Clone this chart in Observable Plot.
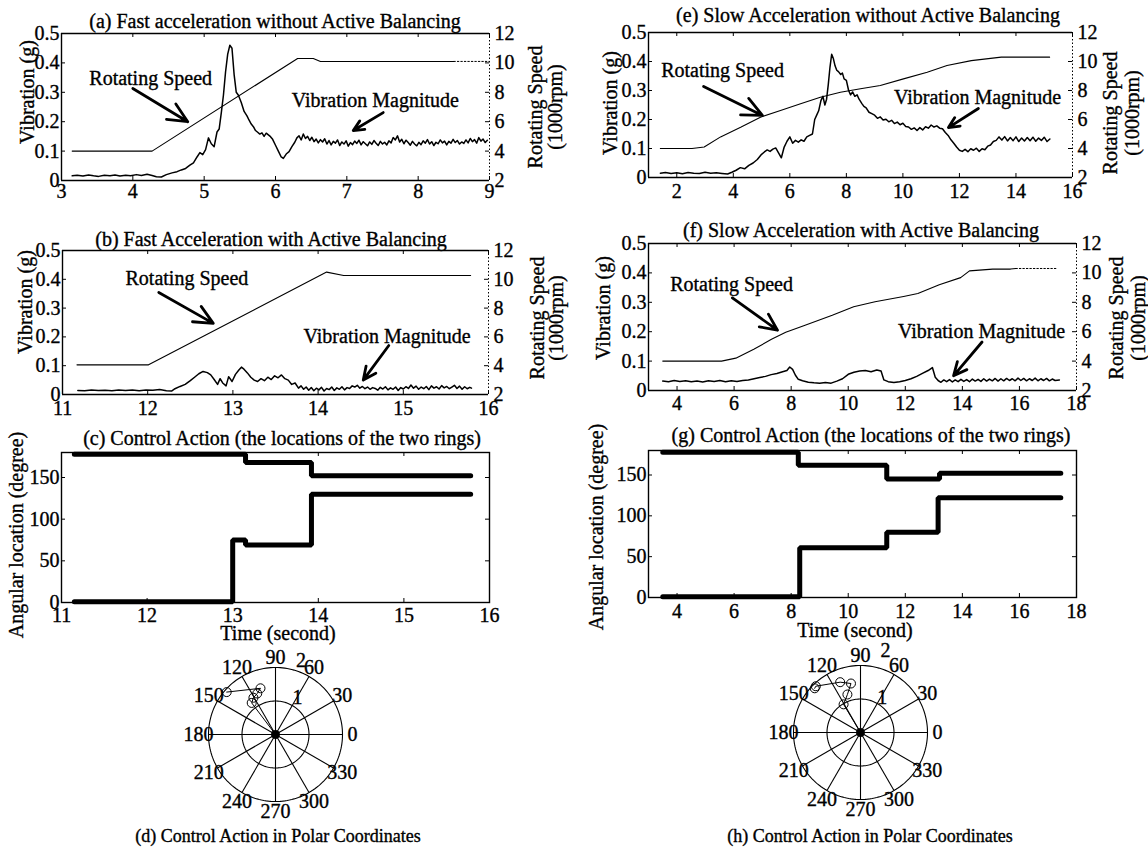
<!DOCTYPE html>
<html><head><meta charset="utf-8">
<script src="https://cdn.jsdelivr.net/npm/d3@7"></script>
<script src="https://cdn.jsdelivr.net/npm/@observablehq/plot@0.6"></script>
<style>
body{margin:0;background:#fff;}
#fig{position:relative;width:1148px;height:848px;overflow:hidden;font-family:"Liberation Serif","Times New Roman",serif;color:#000;background:#fff;}
.abs{position:absolute;}
.abs svg{max-width:none;overflow:visible;}
#fig svg text{stroke:#000;stroke-width:0.35px;}
.t{position:absolute;white-space:nowrap;font-size:20px;line-height:1;transform:translate(-50%,-50%);-webkit-text-stroke:0.35px #000;}
.r{transform:translate(-50%,-50%) rotate(-90deg);}
</style></head><body><div id="fig"></div><script>
// ---------------- DATA ----------------
const vibTicks = [0, 0.1, 0.2, 0.3, 0.4, 0.5];
const speedTicks = [2, 4, 6, 8, 10, 12];
const angTicks = [0, 50, 100, 150];
const xTicksA = [3, 4, 5, 6, 7, 8, 9];
const xTicksB = [11, 12, 13, 14, 15, 16];
const xTicksE = [2, 4, 6, 8, 10, 12, 14, 16];
const xTicksF = [4, 6, 8, 10, 12, 14, 16, 18];

// (a) fast acceleration without balancing: [time s, vibration g]
const vibA = [[3.15,.016],[3.22,.018],[3.30,.015],[3.38,.019],[3.45,.016],[3.52,.014],[3.60,.018],[3.68,.016],[3.75,.019],[3.82,.015],[3.90,.018],[3.97,.016],[4.05,.020],[4.12,.017],[4.20,.021],[4.27,.017],[4.33,.013],[4.40,.012],[4.47,.020],[4.55,.026],[4.62,.030],[4.68,.036],[4.74,.041],[4.80,.052],[4.85,.060],[4.90,.080],[4.94,.095],[4.98,.088],[5.02,.105],[5.06,.145],[5.10,.125],[5.14,.115],[5.18,.165],[5.21,.175],[5.24,.230],[5.27,.290],[5.30,.370],[5.33,.430],[5.36,.460],[5.39,.450],[5.42,.360],[5.45,.300],[5.48,.290],[5.52,.265],[5.56,.235],[5.60,.220],[5.63,.205],[5.66,.192],[5.69,.183],[5.72,.170],[5.75,.164],[5.78,.158],[5.81,.162],[5.84,.150],[5.87,.161],[5.90,.155],[5.93,.149],[5.96,.140],[6.00,.120],[6.04,.100],[6.08,.080],[6.11,.075],[6.15,.090],[6.19,.098],[6.23,.115],[6.27,.130],[6.30,.145],[6.33,.152],[6.36,.138],[6.39,.158],[6.42,.143],[6.45,.150],[6.48,.136],[6.51,.147],[6.54,.132],[6.57,.141],[6.60,.128],[6.63,.139],[6.66,.131],[6.69,.142],[6.72,.124],[6.75,.136],[6.78,.121],[6.81,.133],[6.84,.127],[6.87,.138],[6.90,.119],[6.93,.131],[6.96,.124],[6.99,.135],[7.02,.117],[7.05,.129],[7.08,.122],[7.11,.134],[7.14,.126],[7.17,.137],[7.20,.121],[7.23,.132],[7.26,.125],[7.29,.118],[7.32,.131],[7.35,.123],[7.38,.136],[7.41,.127],[7.44,.119],[7.47,.133],[7.50,.124],[7.53,.130],[7.56,.121],[7.59,.135],[7.62,.128],[7.65,.146],[7.68,.138],[7.71,.152],[7.74,.131],[7.77,.140],[7.80,.125],[7.83,.137],[7.86,.129],[7.89,.120],[7.92,.133],[7.95,.124],[7.98,.118],[8.01,.130],[8.04,.122],[8.07,.135],[8.10,.127],[8.13,.139],[8.16,.124],[8.19,.132],[8.22,.119],[8.25,.130],[8.28,.125],[8.31,.138],[8.34,.128],[8.37,.134],[8.40,.121],[8.43,.133],[8.46,.127],[8.49,.140],[8.52,.129],[8.55,.136],[8.58,.124],[8.61,.131],[8.64,.126],[8.67,.138],[8.70,.128],[8.73,.143],[8.76,.132],[8.79,.139],[8.82,.127],[8.85,.146],[8.88,.134],[8.91,.141],[8.94,.129],[8.97,.137]];
// rotating speed [time s, 1000 rpm]
const speedA = [[3.15,4.0],[4.27,4.0],[6.31,10.3],[6.53,10.3],[6.63,10.1],[8.5,10.1]];
const speedAdot = [[8.5,10.1],[9.0,10.1]];

// (b) fast acceleration with balancing
const vibB = [[11.18,.014],[11.26,.013],[11.34,.016],[11.42,.014],[11.50,.015],[11.58,.013],[11.66,.016],[11.74,.014],[11.82,.016],[11.90,.013],[11.98,.016],[12.06,.015],[12.14,.017],[12.22,.013],[12.28,.012],[12.32,.020],[12.38,.028],[12.44,.035],[12.50,.048],[12.55,.060],[12.60,.072],[12.65,.080],[12.70,.076],[12.74,.068],[12.78,.052],[12.82,.035],[12.85,.055],[12.88,.040],[12.92,.030],[12.95,.062],[12.99,.045],[13.03,.070],[13.07,.085],[13.10,.095],[13.13,.088],[13.17,.075],[13.21,.060],[13.25,.050],[13.29,.045],[13.33,.055],[13.37,.048],[13.41,.060],[13.45,.052],[13.49,.065],[13.53,.058],[13.57,.068],[13.61,.055],[13.65,.050],[13.69,.035],[13.73,.040],[13.77,.022],[13.80,.030],[13.83,.018],[13.86,.026],[13.89,.015],[13.92,.024],[13.95,.013],[13.98,.022],[14.01,.016],[14.04,.025],[14.07,.012],[14.10,.021],[14.13,.017],[14.16,.026],[14.19,.014],[14.22,.023],[14.25,.018],[14.28,.027],[14.31,.016],[14.34,.024],[14.37,.021],[14.40,.030],[14.43,.026],[14.46,.032],[14.49,.022],[14.52,.028],[14.55,.020],[14.58,.026],[14.61,.018],[14.64,.024],[14.67,.021],[14.70,.015],[14.73,.025],[14.76,.019],[14.79,.027],[14.82,.016],[14.85,.023],[14.88,.018],[14.91,.026],[14.94,.014],[14.97,.024],[15.00,.019],[15.03,.027],[15.06,.021],[15.09,.033],[15.12,.022],[15.15,.029],[15.18,.018],[15.21,.026],[15.24,.020],[15.27,.028],[15.30,.017],[15.33,.030],[15.36,.022],[15.39,.027],[15.42,.019],[15.45,.031],[15.48,.023],[15.51,.028],[15.54,.020],[15.57,.026],[15.60,.032],[15.63,.021],[15.66,.029],[15.69,.018],[15.72,.027],[15.75,.020],[15.78,.025],[15.80,.022]];
const speedB = [[11.17,4.06],[12.01,4.06],[14.1,10.5],[14.3,10.26],[15.79,10.26]];

// (e) slow acceleration without balancing
const vibE = [[1.42,.015],[1.6,.017],[1.8,.014],[2.0,.016],[2.2,.013],[2.4,.017],[2.6,.015],[2.8,.014],[3.0,.018],[3.2,.015],[3.4,.016],[3.6,.014],[3.8,.012],[3.95,.018],[4.1,.025],[4.25,.034],[4.4,.030],[4.55,.042],[4.7,.050],[4.85,.062],[5.0,.080],[5.1,.088],[5.2,.095],[5.3,.090],[5.4,.098],[5.5,.102],[5.6,.085],[5.7,.068],[5.8,.105],[5.9,.125],[6.0,.140],[6.1,.118],[6.2,.128],[6.3,.122],[6.4,.130],[6.5,.125],[6.6,.140],[6.7,.145],[6.8,.150],[6.88,.200],[6.95,.215],[7.02,.230],[7.1,.265],[7.17,.280],[7.24,.250],[7.3,.270],[7.36,.320],[7.42,.380],[7.48,.425],[7.54,.410],[7.6,.385],[7.66,.370],[7.72,.365],[7.8,.355],[7.86,.360],[7.92,.340],[8.0,.335],[8.08,.300],[8.15,.285],[8.22,.295],[8.3,.280],[8.38,.285],[8.45,.270],[8.55,.255],[8.62,.245],[8.7,.240],[8.8,.225],[8.9,.220],[9.0,.215],[9.1,.204],[9.2,.209],[9.3,.198],[9.4,.201],[9.5,.192],[9.6,.197],[9.7,.186],[9.8,.191],[9.9,.182],[10.0,.187],[10.1,.176],[10.2,.174],[10.3,.166],[10.4,.171],[10.5,.162],[10.6,.172],[10.7,.164],[10.8,.175],[10.9,.170],[11.0,.181],[11.1,.174],[11.2,.178],[11.3,.170],[11.4,.168],[11.5,.155],[11.6,.145],[11.7,.130],[11.8,.118],[11.9,.105],[12.0,.094],[12.1,.090],[12.2,.097],[12.3,.089],[12.4,.099],[12.5,.094],[12.6,.101],[12.7,.090],[12.8,.099],[12.9,.096],[13.0,.108],[13.1,.112],[13.2,.124],[13.3,.128],[13.4,.140],[13.5,.129],[13.6,.141],[13.7,.126],[13.8,.138],[13.9,.127],[14.0,.140],[14.1,.124],[14.2,.136],[14.3,.126],[14.4,.138],[14.5,.127],[14.6,.139],[14.7,.125],[14.8,.136],[14.9,.128],[15.0,.139],[15.1,.124],[15.2,.133]];
const speedE = [[1.42,4],[2.54,4],[2.97,4.1],[3.55,4.8],[4.26,5.46],[4.96,6.16],[5.67,6.62],[6.38,7.08],[7.08,7.54],[7.79,7.88],[8.5,8.12],[9.2,8.34],[10.02,8.8],[10.86,9.26],[11.56,9.72],[12.42,10.06],[13.48,10.3],[15.19,10.3]];

// (f) slow acceleration with balancing
const vibF = [[3.5,.032],[3.7,.030],[3.9,.034],[4.1,.031],[4.3,.033],[4.5,.030],[4.7,.032],[4.9,.029],[5.1,.033],[5.3,.031],[5.5,.034],[5.7,.030],[5.9,.033],[6.1,.031],[6.3,.034],[6.5,.036],[6.7,.040],[6.9,.044],[7.1,.048],[7.3,.054],[7.5,.058],[7.7,.064],[7.85,.068],[7.95,.080],[8.05,.072],[8.15,.052],[8.25,.038],[8.4,.033],[8.6,.028],[8.8,.026],[9.0,.025],[9.2,.027],[9.4,.025],[9.6,.032],[9.8,.040],[10.0,.055],[10.2,.062],[10.4,.066],[10.6,.068],[10.8,.064],[11.0,.070],[11.15,.066],[11.25,.036],[11.4,.030],[11.6,.027],[11.8,.030],[12.0,.034],[12.2,.040],[12.4,.048],[12.6,.058],[12.8,.068],[12.95,.078],[13.05,.045],[13.15,.034],[13.25,.028],[13.35,.036],[13.45,.030],[13.55,.037],[13.65,.029],[13.75,.036],[13.85,.030],[13.95,.038],[14.05,.031],[14.15,.037],[14.25,.030],[14.35,.039],[14.45,.032],[14.55,.038],[14.65,.031],[14.75,.040],[14.85,.032],[14.95,.039],[15.05,.033],[15.15,.041],[15.25,.032],[15.35,.040],[15.45,.033],[15.55,.041],[15.65,.034],[15.75,.040],[15.85,.033],[15.95,.042],[16.05,.034],[16.15,.041],[16.25,.033],[16.35,.040],[16.45,.034],[16.55,.042],[16.65,.033],[16.75,.040],[16.85,.034],[16.95,.041],[17.05,.033],[17.15,.039],[17.25,.034],[17.4,.036]];
const speedF = [[3.5,4],[5.56,4],[6.06,4.2],[6.69,4.8],[7.31,5.48],[7.81,5.96],[8.44,6.4],[9.44,7.12],[10.19,7.7],[10.94,8.04],[11.94,8.4],[12.44,8.6],[13.19,9.2],[13.94,9.68],[14.25,10.14],[15.06,10.26],[15.69,10.26],[15.875,10.3]];
const speedFdot = [[15.875,10.3],[17.31,10.3]];

// (c) ring locations, fast: [time, degree]
const ring1C = [[11.15,178],[13.15,168],[13.92,152],[15.78,152]];
const ring2C = [[11.15,1],[13.0,75],[13.15,69],[13.92,130],[15.78,130]];
// (g) ring locations, slow
const ring1G = [[3.5,178],[8.25,162],[11.35,145],[13.2,152],[17.45,152]];
const ring2G = [[3.5,1],[8.3,61],[11.35,80],[13.15,122],[17.45,122]];

// polar control action [angle deg, magnitude]
const polarD = [[0,0],[127,1.18],[121,1.28],[114,1.34],[108,1.45],[139,1.93]];
const polarH = [[0,0],[121,0.98],[109,1.2],[101,1.49],[112,1.62],[134,1.92],[136,1.9]];
const polarAngles = [0,30,60,90,120,150,180,210,240,270,300,330];
const polarRings = [1, 2];

// annotations (data units)
const notesA = [{x:4.25,y:0.347,text:"Rotating Speed"},{x:7.4,y:0.272,text:"Vibration Magnitude"}];
const arrowsA = [{x1:4.0,y1:0.313,x2:4.77,y2:0.2},{x1:7.51,y1:0.231,x2:7.09,y2:0.17}];
const notesB = [{x:12.46,y:0.403,text:"Rotating Speed"},{x:14.81,y:0.2,text:"Vibration Magnitude"}];
const arrowsB = [{x1:12.13,y1:0.354,x2:12.77,y2:0.247},{x1:14.83,y1:0.17,x2:14.53,y2:0.05}];
const notesE = [{x:3.62,y:0.369,text:"Rotating Speed"},{x:12.64,y:0.276,text:"Vibration Magnitude"}];
const arrowsE = [{x1:2.95,y1:0.314,x2:5.03,y2:0.214},{x1:12.67,y1:0.238,x2:11.61,y2:0.172}];
const notesF = [{x:5.91,y:0.36,text:"Rotating Speed"},{x:14.67,y:0.2,text:"Vibration Magnitude"}];
const arrowsF = [{x1:5.94,y1:0.315,x2:7.52,y2:0.205},{x1:14.69,y1:0.165,x2:13.69,y2:0.05}];

// ---------------- DRAWING ----------------
const FONT = "Liberation Serif";
const fig = document.getElementById("fig");
function place(node, left, top, w, h) {
  const d = document.createElement("div");
  d.className = "abs";
  Object.assign(d.style, {left: left + "px", top: top + "px", width: w + "px", height: h + "px"});
  d.appendChild(node); fig.appendChild(d);
}
function label(text, x, y, rot = false, size = 20) {
  const s = document.createElement("div");
  s.className = "t" + (rot ? " r" : "");
  Object.assign(s.style, {left: x + "px", top: y + "px", fontSize: size + "px"});
  s.textContent = text; fig.appendChild(s);
}
const baseStyle = {fontFamily: FONT, fontSize: "20px", background: "transparent", overflow: "visible", maxWidth: "none"};
const fmtV = d => d === 0 ? "0" : String(d);
const toV = s => (s - 2) / 20;

function dualPanel(p) {
  const mL = 70, mR = 50, mT = 14, mB = 40;
  const fw = p.fx1 - p.fx0, fh = p.fy1 - p.fy0;
  const W = fw + mL + mR, H = fh + mT + mB;
  const spPos = speedTicks.map(toV);
  const chart = Plot.plot({
    width: W, height: H, marginLeft: mL, marginRight: mR, marginTop: mT, marginBottom: mB,
    style: baseStyle,
    x: {domain: p.xDomain}, y: {domain: [0, 0.5]},
    marks: [
      Plot.ruleY([0, 0.5], {stroke: "#000", strokeWidth: 1.4}),
      Plot.ruleX([p.xDomain[0]], {stroke: "#000", strokeWidth: 1.4}),
      Plot.ruleX([p.xDomain[1]], {stroke: "#000", strokeWidth: 1, strokeDasharray: "1.5,2"}),
      Plot.tickX(p.xTicks, {x: d => d, insetTop: fh - 4, stroke: "#000"}),
      Plot.tickX(p.xTicks, {x: d => d, insetBottom: fh - 4, stroke: "#000"}),
      Plot.tickY(vibTicks, {y: d => d, insetRight: fw - 4, stroke: "#000"}),
      Plot.tickY(spPos, {y: d => d, insetLeft: fw - 4, stroke: "#000"}),
      Plot.axisX({ticks: p.xTicks, tickSize: 0, tickPadding: p.xPad, fontSize: 20, label: null, tickFormat: d => String(d)}),
      Plot.axisY({ticks: vibTicks, tickSize: 0, tickPadding: 2, fontSize: 20, label: null, tickFormat: fmtV}),
      Plot.axisY({anchor: "right", ticks: spPos, tickSize: 0, tickPadding: 5, fontSize: 20, label: null, tickFormat: (d, i) => String(speedTicks[i])}),
      Plot.line(p.speed, {x: d => d[0], y: d => toV(d[1]), stroke: "#000", strokeWidth: 1.1}),
      p.speedDot ? Plot.line(p.speedDot, {x: d => d[0], y: d => toV(d[1]), stroke: "#000", strokeWidth: 1, strokeDasharray: "1.5,2"}) : [],
      Plot.line(p.vib, {x: d => d[0], y: d => d[1], stroke: "#000", strokeWidth: 1.5}),
      Plot.text(p.notes, {x: "x", y: "y", text: "text", fontSize: 20, fill: "#000"}),
      Plot.arrow(p.arrows, {x1: "x1", y1: "y1", x2: "x2", y2: "y2", stroke: "#000", strokeWidth: 2.8, headLength: 12, headAngle: 50})
    ]
  });
  place(chart, p.fx0 - mL, p.fy0 - mT, W, H);
}

function ringPanel(p) {
  const mL = 70, mR = 50, mT = 14, mB = 40;
  const fw = p.fx1 - p.fx0, fh = p.fy1 - p.fy0;
  const W = fw + mL + mR, H = fh + mT + mB;
  const chart = Plot.plot({
    width: W, height: H, marginLeft: mL, marginRight: mR, marginTop: mT, marginBottom: mB,
    style: baseStyle,
    x: {domain: p.xDomain}, y: {domain: [0, 180]},
    marks: [
      Plot.frame({stroke: "#000", strokeWidth: 1.4}),
      Plot.tickX(p.xTicks, {x: d => d, insetTop: fh - 4, stroke: "#000"}),
      Plot.tickX(p.xTicks, {x: d => d, insetBottom: fh - 4, stroke: "#000"}),
      Plot.tickY(angTicks, {y: d => d, insetRight: fw - 4, stroke: "#000"}),
      Plot.tickY(angTicks, {y: d => d, insetLeft: fw - 4, stroke: "#000"}),
      Plot.axisX({ticks: p.xTicks, tickSize: 0, tickPadding: p.xPad, fontSize: 20, label: null, tickFormat: d => String(d)}),
      Plot.axisY({ticks: angTicks, tickSize: 0, tickPadding: 2, fontSize: 20, label: null, tickFormat: d => String(d)}),
      Plot.line(p.r1, {x: d => d[0], y: d => d[1], curve: "step-after", stroke: "#000", strokeWidth: 5, strokeLinejoin: "miter"}),
      Plot.line(p.r2, {x: d => d[0], y: d => d[1], curve: "step-after", stroke: "#000", strokeWidth: 5, strokeLinejoin: "miter"})
    ]
  });
  place(chart, p.fx0 - mL, p.fy0 - mT, W, H);
}

function polarPanel(cx, cy, pts, radLabels) {
  const U = 33.5, m = 60, S = 4 * U + 2 * m;
  const rad = a => a * Math.PI / 180;
  const pol = (a, r) => ({x: r * Math.cos(rad(a)), y: r * Math.sin(rad(a))});
  const sweep = d3.range(0, 361, 2);
  const rings = polarRings.flatMap(r => sweep.map(a => ({...pol(a, r), ring: r})));
  const spokes = polarAngles.map(a => ({x1: 0, y1: 0, x2: pol(a, 2).x, y2: pol(a, 2).y}));
  const angLab = polarAngles.map(a => ({...pol(a, 2.3), text: String(a)}));
  const path = pts.map(([a, r]) => pol(a, r));
  const chart = Plot.plot({
    width: S, height: S, margin: m, style: baseStyle,
    x: {domain: [-2, 2], axis: null}, y: {domain: [-2, 2], axis: null},
    marks: [
      Plot.line(rings, {x: "x", y: "y", z: "ring", stroke: "#000", strokeWidth: 1.1}),
      Plot.link(spokes, {x1: "x1", y1: "y1", x2: "x2", y2: "y2", stroke: "#000", strokeWidth: 1.1}),
      Plot.text(angLab, {x: "x", y: "y", text: "text", fontSize: 20, fill: "#000"}),
      Plot.text(radLabels.map(([a, r, t]) => ({...pol(a, r), text: t})), {x: "x", y: "y", text: "text", fontSize: 20, fill: "#000"}),
      Plot.line(path, {x: "x", y: "y", stroke: "#000", strokeWidth: 1}),
      Plot.dot(path.slice(1), {x: "x", y: "y", r: 4.5, stroke: "#000", strokeWidth: 1, fill: "none"}),
      Plot.dot(path.slice(0, 1), {x: "x", y: "y", r: 4.5, fill: "#000"})
    ]
  });
  place(chart, cx - S / 2, cy - S / 2, S, S);
}

// panels
dualPanel({fx0: 61, fx1: 489, fy0: 33, fy1: 180, xDomain: [3, 9], xTicks: xTicksA, xPad: 3,
  vib: vibA, speed: speedA, speedDot: speedAdot, notes: notesA, arrows: arrowsA});
dualPanel({fx0: 62, fx1: 488, fy0: 250, fy1: 394, xDomain: [11, 16], xTicks: xTicksB, xPad: 6,
  vib: vibB, speed: speedB, notes: notesB, arrows: arrowsB});
dualPanel({fx0: 648, fx1: 1072, fy0: 32, fy1: 177, xDomain: [1, 16], xTicks: xTicksE, xPad: 6,
  vib: vibE, speed: speedE, notes: notesE, arrows: arrowsE});
dualPanel({fx0: 648, fx1: 1076, fy0: 243, fy1: 390, xDomain: [3, 18], xTicks: xTicksF, xPad: 5,
  vib: vibF, speed: speedF, speedDot: speedFdot, notes: notesF, arrows: arrowsF});
ringPanel({fx0: 61, fx1: 489, fy0: 452, fy1: 602, xDomain: [11, 16], xTicks: xTicksB, xPad: 5, r1: ring1C, r2: ring2C});
ringPanel({fx0: 648, fx1: 1076, fy0: 450, fy1: 597, xDomain: [3, 18], xTicks: xTicksF, xPad: 6, r1: ring1G, r2: ring2G});
polarPanel(275, 734, polarD, [[59, 1.28, "1"], [71, 2.33, "2"]]);
polarPanel(860, 732, polarH, [[58, 1.23, "1"], [73, 2.56, "2"]]);

// titles and axis labels
label("(a) Fast acceleration without Active Balancing", 275, 21);
label("(b) Fast Acceleration with Active Balancing", 271, 239);
label("(c) Control Action (the locations of the two rings)", 282, 438);
label("(e) Slow Acceleration without Active Balancing", 868, 15);
label("(f) Slow Acceleration with Active Balancing", 861, 230);
label("(g) Control Action (the locations of the two rings)", 871, 435);
label("(d) Control Action in Polar Coordinates", 278, 836, false, 18);
label("(h) Control Action in Polar Coordinates", 870, 836, false, 18);

label("Vibration (g)", 27, 92, true);
label("Vibration (g)", 25, 302, true);
label("Vibration (g)", 610, 103, true);
label("Vibration (g)", 603, 308, true);
label("Rotating Speed", 535, 107, true);
label("(1000rpm)", 555, 107, true);
label("Rotating Speed", 537, 318, true);
label("(1000rpm)", 556, 318, true);
label("Rotating Speed", 1110, 113, true);
label("(1000rpm)", 1132, 113, true);
label("Rotating Speed", 1116, 318, true);
label("(1000rpm)", 1138, 318, true);
label("Angular location (degree)", 16, 535, true);
label("Angular location (degree)", 596, 527, true);
label("Time (second)", 278, 633);
label("Time (second)", 855, 630);
</script></body></html>
